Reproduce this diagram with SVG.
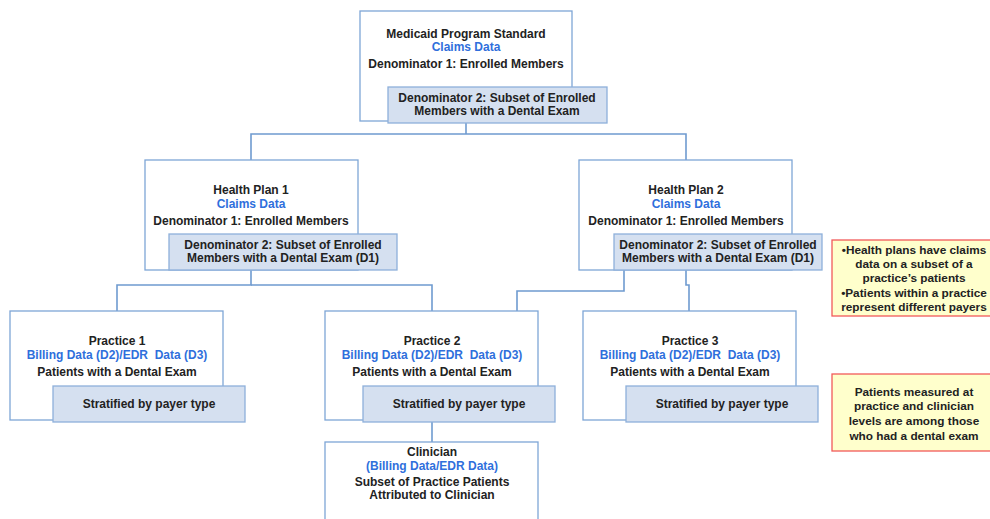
<svg xmlns="http://www.w3.org/2000/svg" width="990" height="519" viewBox="0 0 990 519">
<style>
.box{fill:#fff;stroke:#7ea6d6;stroke-width:1.3}
.inner{fill:#d5e0f0;stroke:#8eb0da;stroke-width:1.3}
.note{fill:#ffffcc;stroke:#f25a5a;stroke-width:1.3}
.con{fill:none;stroke:#6f9bd0;stroke-width:1.6}
text{font-family:"Liberation Sans",Arial,sans-serif;font-size:12px;font-weight:bold;fill:#222;text-anchor:middle}
.b{fill:#2f6fdc}
.n{font-size:11.8px}
</style>
<rect width="990" height="519" fill="#fff"/>
<g id="connectors">
<polyline class="con" points="466,123 466,134"/>
<polyline class="con" points="251,160 251,134 686,134 686,160"/>
<polyline class="con" points="251,270 251,285 117,285 117,311"/>
<polyline class="con" points="251,285 432,285 432,311"/>
<polyline class="con" points="624,270 624,291 517,291 517,311"/>
<polyline class="con" points="686,270 686,285 689,285 689,311"/>
<polyline class="con" points="432,422 432,442"/>
</g>
<g id="medicaid">
<rect class="box" x="360" y="11" width="212" height="110"/>
<text x="466" y="38">Medicaid Program Standard</text>
<text class="b" x="466" y="51">Claims Data</text>
<text x="466" y="68">Denominator 1: Enrolled Members</text>
<rect class="inner" x="388" y="87" width="219" height="36"/>
<text x="497" y="102">Denominator 2: Subset of Enrolled</text>
<text x="497" y="115">Members with a Dental Exam</text>
</g>
<g id="healthplan1">
<rect class="box" x="145" y="160" width="213" height="110"/>
<text x="251" y="194">Health Plan 1</text>
<text class="b" x="251" y="208">Claims Data</text>
<text x="251" y="225">Denominator 1: Enrolled Members</text>
<rect class="inner" x="169" y="234" width="228" height="36"/>
<text x="283" y="249">Denominator 2: Subset of Enrolled</text>
<text x="283" y="262">Members with a Dental Exam (D1)</text>
</g>
<g id="healthplan2">
<rect class="box" x="579" y="160" width="213" height="110"/>
<text x="686" y="194">Health Plan 2</text>
<text class="b" x="686" y="208">Claims Data</text>
<text x="686" y="225">Denominator 1: Enrolled Members</text>
<rect class="inner" x="614" y="234" width="208" height="36"/>
<text x="718" y="249">Denominator 2: Subset of Enrolled</text>
<text x="718" y="262">Members with a Dental Exam (D1)</text>
</g>
<g id="note1">
<rect class="note" x="832" y="240" width="160" height="76"/>
<text class="n" x="914" y="254">•Health plans have claims</text>
<text class="n" x="914" y="268">data on a subset of a</text>
<text class="n" x="914" y="282">practice’s patients</text>
<text class="n" x="914" y="297">•Patients within a practice</text>
<text class="n" x="914" y="311">represent different payers</text>
</g>
<g id="practice1">
<rect class="box" x="10" y="311" width="213" height="109"/>
<text x="117" y="345">Practice 1</text>
<text class="b" x="117" y="359">Billing Data (D2)/EDR&#160; Data (D3)</text>
<text x="117" y="376">Patients with a Dental Exam</text>
<rect class="inner" x="53" y="386" width="192" height="36"/>
<text x="149" y="408">Stratified by payer type</text>
</g>
<g id="practice2">
<rect class="box" x="325" y="311" width="213" height="109"/>
<text x="432" y="345">Practice 2</text>
<text class="b" x="432" y="359">Billing Data (D2)/EDR&#160; Data (D3)</text>
<text x="432" y="376">Patients with a Dental Exam</text>
<rect class="inner" x="363" y="386" width="192" height="36"/>
<text x="459" y="408">Stratified by payer type</text>
</g>
<g id="practice3">
<rect class="box" x="583" y="311" width="213" height="109"/>
<text x="690" y="345">Practice 3</text>
<text class="b" x="690" y="359">Billing Data (D2)/EDR&#160; Data (D3)</text>
<text x="690" y="376">Patients with a Dental Exam</text>
<rect class="inner" x="626" y="386" width="192" height="36"/>
<text x="722" y="408">Stratified by payer type</text>
</g>
<g id="note2">
<rect class="note" x="832" y="374" width="160" height="77"/>
<text class="n" x="914" y="396">Patients measured at</text>
<text class="n" x="914" y="410">practice and clinician</text>
<text class="n" x="914" y="425">levels are among those</text>
<text class="n" x="914" y="440">who had a dental exam</text>
</g>
<g id="clinician">
<rect class="box" x="325" y="442" width="213" height="90"/>
<text x="432" y="456">Clinician</text>
<text class="b" x="432" y="470">(Billing Data/EDR Data)</text>
<text x="432" y="486">Subset of Practice Patients</text>
<text x="432" y="499">Attributed to Clinician</text>
</g>
</svg>
